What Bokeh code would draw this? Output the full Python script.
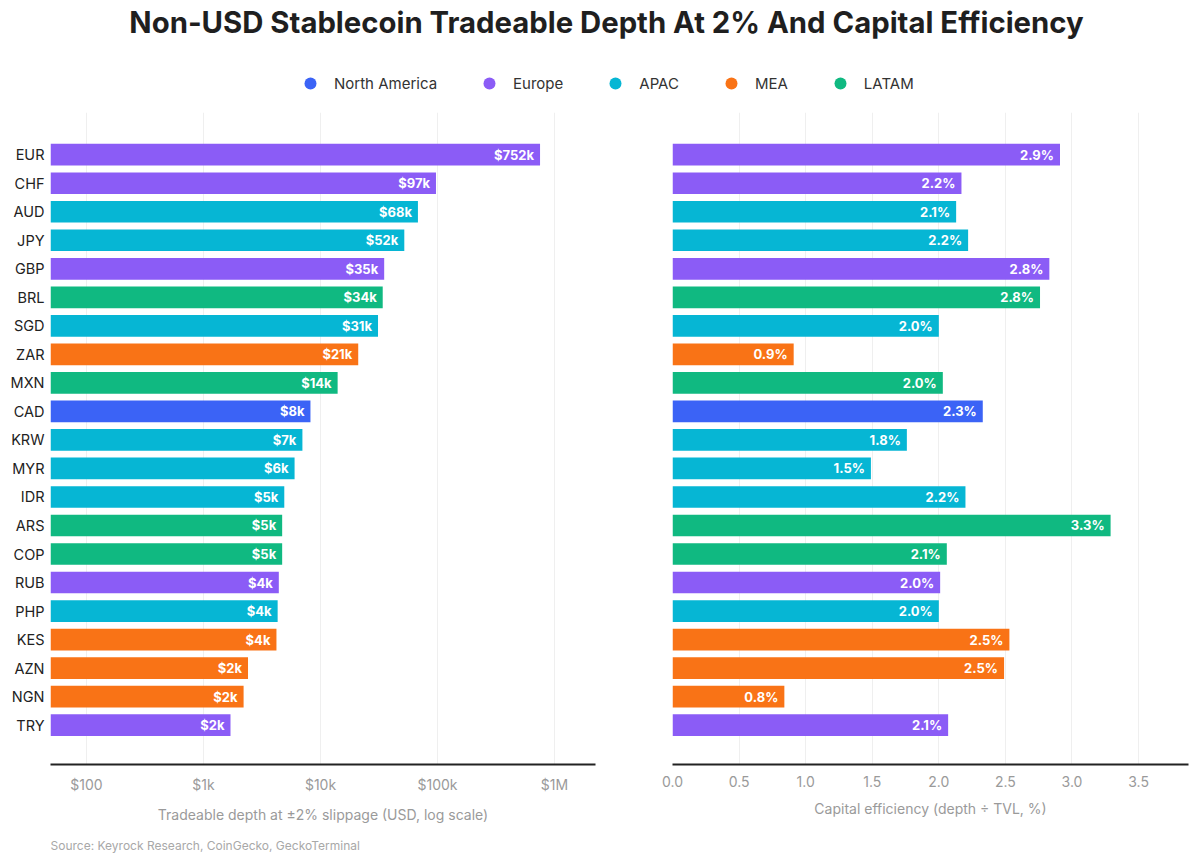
from bokeh.plotting import figure
from bokeh.layouts import column, row
from bokeh.models import (ColumnDataSource, Range1d, FixedTicker, Legend, LegendItem,
                          NumeralTickFormatter)
from bokeh.core.properties import value
from bokeh.embed import file_html
from bokeh.resources import INLINE

# ---- data -----------------------------------------------------------------
currencies = ["EUR", "CHF", "AUD", "JPY", "GBP", "BRL", "SGD", "ZAR", "MXN", "CAD", "KRW",
              "MYR", "IDR", "ARS", "COP", "RUB", "PHP", "KES", "AZN", "NGN", "TRY"]
regions = ["Europe", "Europe", "APAC", "APAC", "Europe", "LATAM", "APAC", "MEA", "LATAM",
           "North America", "APAC", "APAC", "APAC", "LATAM", "LATAM", "Europe", "APAC",
           "MEA", "MEA", "MEA", "Europe"]
# tradeable depth at +/-2% slippage, USD
depth_usd = [752000, 97000, 68000, 52000, 35000, 34000, 31000, 21000, 14000, 8200, 7000,
             6000, 4900, 4700, 4700, 4400, 4300, 4200, 2400, 2200, 1700]
# capital efficiency, depth / TVL in %
cap_eff_pct = [2.91, 2.17, 2.13, 2.22, 2.83, 2.76, 2.00, 0.91, 2.03, 2.33, 1.76,
               1.49, 2.20, 3.29, 2.06, 2.01, 2.00, 2.53, 2.49, 0.84, 2.07]

region_order = ["North America", "Europe", "APAC", "MEA", "LATAM"]
region_colors = ["#3b63f6", "#8b5cf6", "#06b6d4", "#f97316", "#10b981"]

depth_ticks = [100, 1000, 10000, 100000, 1000000]
depth_tick_labels = ["$100", "$1k", "$10k", "$100k", "$1M"]
eff_ticks = [0.0, 0.5, 1.0, 1.5, 2.0, 2.5, 3.0, 3.5]

TITLE = "Non-USD Stablecoin Tradeable Depth At 2% And Capital Efficiency"
SOURCE = "Source: Keyrock Research, CoinGecko, GeckoTerminal"

FONT = "Inter"
color_of = dict(zip(region_order, region_colors))

ypos = list(range(len(currencies)))
src = ColumnDataSource(dict(
    y=ypos,
    depth=depth_usd,
    eff=cap_eff_pct,
    color=[color_of[r] for r in regions],
    depth_lbl=["$%dk" % round(v / 1000) for v in depth_usd],
    eff_lbl=["%.1f%%" % v for v in cap_eff_pct],
))

Y_RANGE = (21.38, -1.48)
DEPTH_MIN = 49.2
NAN = float("nan")


def style_panel(p, ticks):
    p.outline_line_color = None
    p.ygrid.visible = False
    p.xgrid.grid_line_color = "#efefef"
    p.xgrid.grid_line_width = 1
    ax = p.xaxis[0]
    ax.ticker = FixedTicker(ticks=ticks)
    ax.axis_line_color = "#222222"
    ax.axis_line_width = 2
    ax.major_tick_line_color = None
    ax.minor_tick_line_color = None
    ax.major_label_text_font = FONT
    ax.major_label_text_font_size = "14px"
    ax.major_label_text_color = "#9a9a9a"
    ax.major_label_standoff = 5
    ax.axis_label_text_font = FONT
    ax.axis_label_text_font_style = "normal"
    ax.axis_label_text_font_size = "14px"
    ax.axis_label_text_color = "#9a9a9a"
    ax.axis_label_standoff = 10


def bar_labels(p, field, text):
    p.text(x=field, y="y", text=text, source=src, x_offset=-6,
           text_align="right", text_baseline="middle", text_color="white",
           text_font=value(FONT), text_font_style="bold", text_font_size="13px")


# ---- header: title + legend ------------------------------------------------
hdr = figure(width=1199, height=105, x_range=Range1d(0, 1199), y_range=Range1d(105, 0),
             x_axis_location=None, y_axis_location=None, toolbar_location=None,
             output_backend="svg", min_border=0, title=None)
hdr.outline_line_color = None
hdr.grid.visible = False
hdr.text(x=[606], y=[22], text=[TITLE], text_align="center", text_baseline="middle",
         text_font=value(FONT), text_font_style="bold", text_font_size="29.3px",
         text_color="#1f1f1f")
items = []
for name, c in zip(region_order, region_colors):
    # legend swatch only: the point itself is never drawn
    r = hdr.scatter(x=[NAN], y=[NAN], marker="circle", size=12, fill_color=c, line_color=None)
    items.append(LegendItem(label=name, renderers=[r]))
legend = Legend(items=items, orientation="horizontal", location=(295, 7),
                glyph_width=30, glyph_height=30, label_standoff=9, spacing=37,
                padding=0, margin=0, border_line_color=None, background_fill_alpha=0,
                label_text_font=FONT, label_text_font_size="15px",
                label_text_color="#333333")
hdr.add_layout(legend)

# ---- left panel: depth (log scale) -----------------------------------------
left = figure(width=600, height=720, x_axis_type="log",
              x_range=Range1d(DEPTH_MIN, 2.24e6), y_range=Range1d(*Y_RANGE),
              toolbar_location=None, output_backend="svg", title=None,
              min_border_left=50, min_border_right=5, min_border_top=7, min_border_bottom=50)
left.hbar(y="y", left=DEPTH_MIN, right="depth", height=0.76, fill_color="color",
          line_color=None, source=src)
bar_labels(left, "depth", "depth_lbl")
style_panel(left, depth_ticks)
left.xaxis.major_label_overrides = dict(zip(depth_ticks, depth_tick_labels))
left.xaxis.axis_label = "Tradeable depth at \u00b12% slippage (USD, log scale)"
yax = left.yaxis[0]
yax.ticker = FixedTicker(ticks=ypos)
yax.major_label_overrides = dict(zip(ypos, currencies))
yax.axis_line_color = None
yax.major_tick_line_color = None
yax.minor_tick_line_color = None
yax.major_tick_out = 0
yax.major_label_standoff = 6
yax.major_label_text_font = FONT
yax.major_label_text_font_size = "14.5px"
yax.major_label_text_color = "#222222"

# ---- right panel: capital efficiency ---------------------------------------
right = figure(width=599, height=720, x_range=Range1d(0, 3.875), y_range=Range1d(*Y_RANGE),
               y_axis_location=None, toolbar_location=None, output_backend="svg", title=None,
               min_border_left=72, min_border_right=11, min_border_top=7, min_border_bottom=50)
right.hbar(y="y", left=0, right="eff", height=0.76, fill_color="color",
           line_color=None, source=src)
bar_labels(right, "eff", "eff_lbl")
style_panel(right, eff_ticks)
right.xaxis.formatter = NumeralTickFormatter(format="0.0")
right.xaxis.axis_label = "Capital efficiency (depth \u00f7 TVL, %)"

# ---- footer: source ----------------------------------------------------------
ftr = figure(width=1199, height=37, x_range=Range1d(0, 1199), y_range=Range1d(37, 0),
             x_axis_location=None, y_axis_location=None, toolbar_location=None,
             output_backend="svg", min_border=0, title=None)
ftr.outline_line_color = None
ftr.grid.visible = False
ftr.text(x=[50], y=[20], text=[SOURCE], text_align="left", text_baseline="middle",
         text_font=value(FONT), text_font_size="12px", text_color="#a8a8a8")

page = column(hdr, row(left, right), ftr)
open("out.html", "w").write(file_html(page, INLINE))
